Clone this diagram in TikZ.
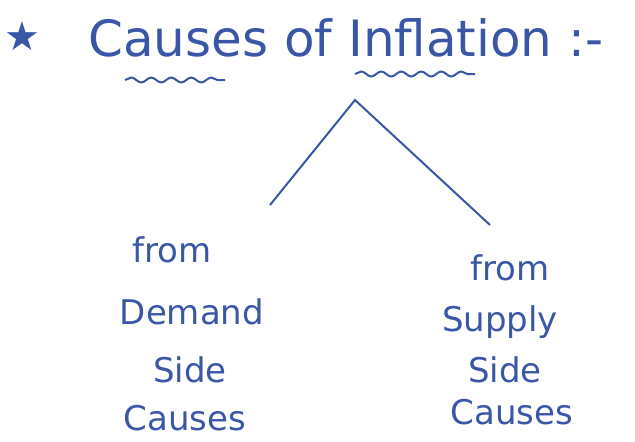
\documentclass[tikz,border=0pt]{standalone}
\usepackage{fontspec}
\setmainfont{DejaVu Sans}
\usetikzlibrary{positioning,decorations.pathmorphing}

\definecolor{ink}{HTML}{3A56A6}

\begin{document}
\begin{tikzpicture}[x=1pt,y=-1pt, every node/.style={text=ink,font=\fontsize{50}{54}\selectfont,inner sep=0pt}, word/.style={font=\fontsize{34}{38}\selectfont}, wave/.style={draw=ink,line width=2pt,decorate,decoration={snake,amplitude=2.5pt,segment length=20pt}}, branch/.style={draw=ink,line width=2pt}]
\useasboundingbox (0,0) rectangle (635,442);
\node[font=\fontsize{40}{44}\selectfont] (star) at (22,36) {★};
\node[anchor=west] (title) at (88,38) {Causes of Inflation :-};
\coordinate (top) at (355,100);
\coordinate (lend) at (270,205);
\coordinate (rend) at (490,225);
\node[word] (lfrom) at (172,250) {from};
\node[word] (ldemand) at (192,312) {Demand};
\node[word] (lside) at (190,370) {Side};
\node[word] (lcauses) at (185,418) {Causes};
\node[word] (rfrom) at (510,268) {from};
\node[word] (rsupply) at (500,322) {Supply};
\node[word] (rside) at (505,370) {Side};
\node[word] (rcauses) at (512,412) {Causes};
\draw[branch] (lend)--(top)--(rend);
% underlines
\path[wave] (125,80)--(225,80);
\path[wave] (355,74)--(475,74);
\end{tikzpicture}
\end{document}
